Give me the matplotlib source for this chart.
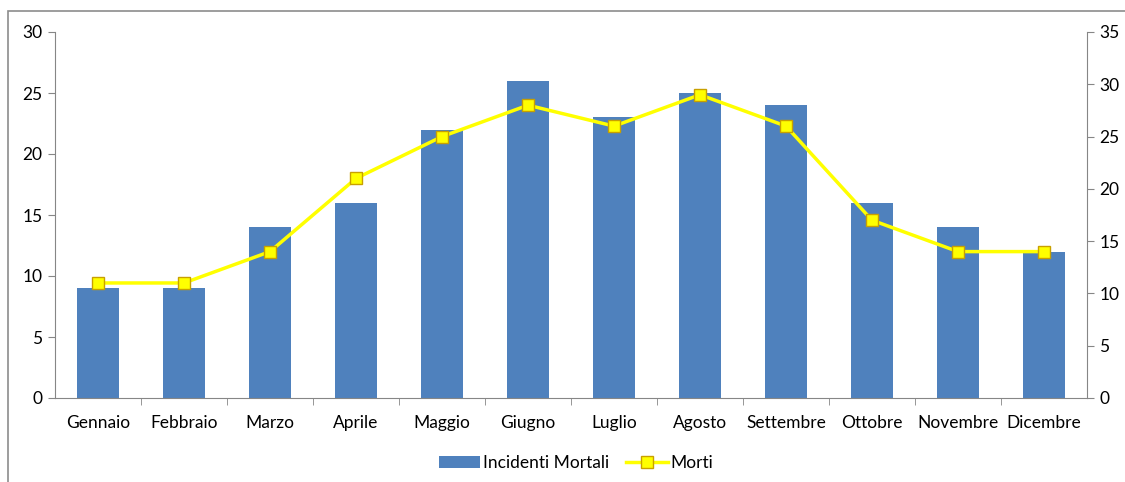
import matplotlib
matplotlib.use("Agg")
import matplotlib.pyplot as plt
from matplotlib.patches import Rectangle

months = ["Gennaio", "Febbraio", "Marzo", "Aprile", "Maggio", "Giugno",
          "Luglio", "Agosto", "Settembre", "Ottobre", "Novembre", "Dicembre"]
incidenti = [9, 9, 14, 16, 22, 26, 23, 25, 24, 16, 14, 12]
morti = [11, 11, 14, 21, 25, 28, 26, 29, 26, 17, 14, 14]
left_ticks = [0, 5, 10, 15, 20, 25, 30]
right_ticks = [0, 5, 10, 15, 20, 25, 30, 35]

plt.rcParams['font.family'] = ['Lato', 'DejaVu Sans']
FS = 12.5
W, H = 1125, 482
fig = plt.figure(figsize=(W / 100, H / 100), dpi=100)
fig.patches.append(Rectangle((8 / W, -0.1), 1.2, (H - 11) / H + 0.1, transform=fig.transFigure,
                             fill=False, edgecolor='#8c8c8c', linewidth=1.2))

ax = fig.add_axes([55 / W, 1 - 398 / H, (1087 - 55) / W, (398 - 32) / H])
x = list(range(len(months)))
bars = ax.bar(x, incidenti, width=0.48, color='#4F81BD', label='Incidenti Mortali', zorder=2)
ax.set_xlim(-0.5, len(months) - 0.5)
ax.set_ylim(0, 30)
ax.set_yticks(left_ticks)
ax.set_xticks(x)
ax.set_xticklabels(months, fontsize=FS)
ax.tick_params(axis='x', length=0, pad=12)
ax.set_xticks([i + 0.5 for i in x[:-1]], minor=True)
ax.tick_params(axis='x', which='minor', length=5, color='#868686', direction='out')
ax.tick_params(axis='y', length=5, color='#868686', labelsize=FS, pad=4)
for s in ['top', 'right']:
    ax.spines[s].set_visible(False)
for s in ['left', 'bottom']:
    ax.spines[s].set_color('#868686')

ax2 = ax.twinx()
line, = ax2.plot(x, morti, color='#FFFF00', linewidth=2.5, marker='s', markersize=9,
                 markerfacecolor='#FFFF00', markeredgecolor='#C8A000', markeredgewidth=1,
                 label='Morti', zorder=3)
ax2.set_ylim(0, 35)
ax2.set_yticks(right_ticks)
ax2.tick_params(axis='y', length=5, color='#868686', labelsize=FS, pad=4)
for s in ['top', 'left', 'bottom']:
    ax2.spines[s].set_visible(False)
ax2.spines['right'].set_color('#868686')

fig.legend([bars, line], ['Incidenti Mortali', 'Morti'], loc='center',
           bbox_to_anchor=(576 / W, 1 - 463 / H), ncol=2, frameon=False,
           fontsize=FS, handlelength=2.4, handletextpad=0.15, columnspacing=1.0)

fig.savefig('out.png', dpi=100)
